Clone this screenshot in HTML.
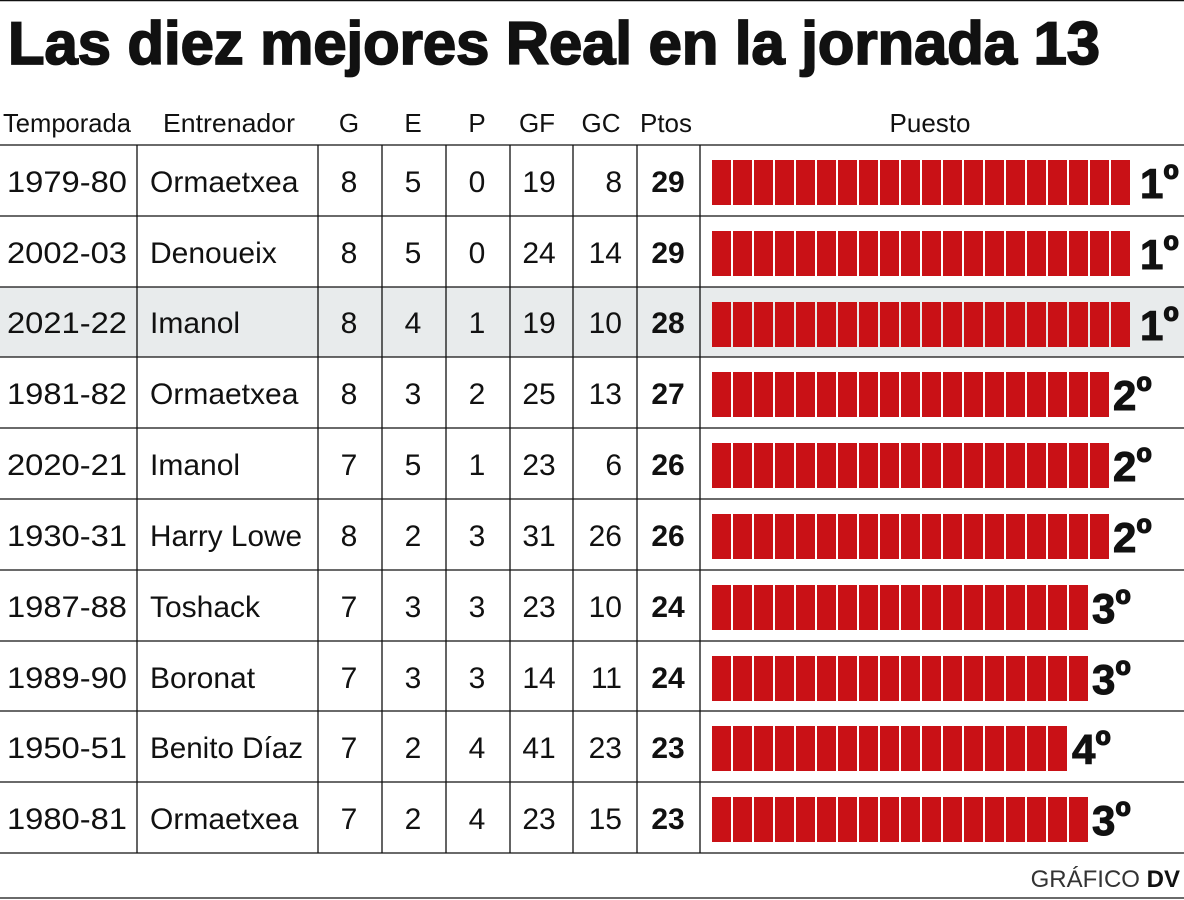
<!DOCTYPE html>
<html><head><meta charset="utf-8"><style>
html,body{margin:0;padding:0;background:#fff;}
svg{display:block;}
text{font-family:"Liberation Sans",sans-serif;fill:#111;}
</style></head><body>
<svg width="1184" height="900" viewBox="0 0 1184 900" xmlns="http://www.w3.org/2000/svg">
<rect width="1184" height="900" fill="#fff"/>
<line x1="0" y1="0.5" x2="1184" y2="0.5" stroke="#111" stroke-width="1.5"/>
<text x="8" y="64" font-size="60" font-weight="bold" textLength="1092" lengthAdjust="spacingAndGlyphs" stroke="#111" stroke-width="1.8">Las diez mejores Real en la jornada 13</text>
<g font-size="26">
<text x="3" y="132" textLength="128" lengthAdjust="spacingAndGlyphs">Temporada</text>
<text x="163" y="132" textLength="132" lengthAdjust="spacingAndGlyphs">Entrenador</text>
<text x="349" y="132" text-anchor="middle">G</text>
<text x="413" y="132" text-anchor="middle">E</text>
<text x="477" y="132" text-anchor="middle">P</text>
<text x="537" y="132" text-anchor="middle">GF</text>
<text x="601" y="132" text-anchor="middle">GC</text>
<text x="640" y="132" textLength="52" lengthAdjust="spacingAndGlyphs">Ptos</text>
<text x="930" y="132" text-anchor="middle">Puesto</text>
</g>
<rect x="0" y="287" width="1184" height="70" fill="#e8ebec"/>
<g stroke="#111" stroke-width="1.3">
<line x1="0" y1="145" x2="1184" y2="145"/><line x1="0" y1="216" x2="1184" y2="216"/><line x1="0" y1="287" x2="1184" y2="287"/><line x1="0" y1="357" x2="1184" y2="357"/><line x1="0" y1="428" x2="1184" y2="428"/><line x1="0" y1="499" x2="1184" y2="499"/><line x1="0" y1="570" x2="1184" y2="570"/><line x1="0" y1="641" x2="1184" y2="641"/><line x1="0" y1="711" x2="1184" y2="711"/><line x1="0" y1="782" x2="1184" y2="782"/><line x1="0" y1="853" x2="1184" y2="853"/>
<line x1="137" y1="145" x2="137" y2="853"/><line x1="318" y1="145" x2="318" y2="853"/><line x1="382" y1="145" x2="382" y2="853"/><line x1="446" y1="145" x2="446" y2="853"/><line x1="510" y1="145" x2="510" y2="853"/><line x1="573" y1="145" x2="573" y2="853"/><line x1="637" y1="145" x2="637" y2="853"/><line x1="700" y1="145" x2="700" y2="853"/>
<line x1="0" y1="898" x2="1184" y2="898"/>
</g>
<defs>
<pattern id="seg" x="712" y="0" width="21" height="900" patternUnits="userSpaceOnUse"><rect x="0" y="0" width="19" height="900" fill="#c91116"/></pattern>
</defs>
<g fill="url(#seg)">
<rect x="712" y="160" width="418" height="45"/>
<rect x="712" y="231" width="418" height="45"/>
<rect x="712" y="302" width="418" height="45"/>
<rect x="712" y="372" width="397" height="45"/>
<rect x="712" y="443" width="397" height="45"/>
<rect x="712" y="514" width="397" height="45"/>
<rect x="712" y="585" width="376" height="45"/>
<rect x="712" y="656" width="376" height="45"/>
<rect x="712" y="726" width="355" height="45"/>
<rect x="712" y="797" width="376" height="45"/>
</g>
<g font-size="42" font-weight="bold" stroke="#111" stroke-width="1">
<text x="1140" y="198">1<tspan dy="-4">º</tspan></text><text x="1140" y="269">1<tspan dy="-4">º</tspan></text><text x="1140" y="340">1<tspan dy="-4">º</tspan></text>
<text x="1113" y="410">2<tspan dy="-4">º</tspan></text><text x="1113" y="481">2<tspan dy="-4">º</tspan></text><text x="1113" y="552">2<tspan dy="-4">º</tspan></text>
<text x="1092" y="623">3<tspan dy="-4">º</tspan></text><text x="1092" y="694">3<tspan dy="-4">º</tspan></text><text x="1072" y="764">4<tspan dy="-4">º</tspan></text><text x="1092" y="835">3<tspan dy="-4">º</tspan></text>
</g>
<g font-size="30">
<text x="7" y="192" textLength="120" lengthAdjust="spacingAndGlyphs">1979-80</text><text x="150" y="192">Ormaetxea</text><text x="349" y="192" text-anchor="middle">8</text><text x="413" y="192" text-anchor="middle">5</text><text x="477" y="192" text-anchor="middle">0</text><text x="539" y="192" text-anchor="middle">19</text><text x="622" y="192" text-anchor="end">8</text><text x="668" y="192" text-anchor="middle" font-weight="bold">29</text>
<text x="7" y="263" textLength="120" lengthAdjust="spacingAndGlyphs">2002-03</text><text x="150" y="263">Denoueix</text><text x="349" y="263" text-anchor="middle">8</text><text x="413" y="263" text-anchor="middle">5</text><text x="477" y="263" text-anchor="middle">0</text><text x="539" y="263" text-anchor="middle">24</text><text x="622" y="263" text-anchor="end">14</text><text x="668" y="263" text-anchor="middle" font-weight="bold">29</text>
<text x="7" y="333" textLength="120" lengthAdjust="spacingAndGlyphs">2021-22</text><text x="150" y="333">Imanol</text><text x="349" y="333" text-anchor="middle">8</text><text x="413" y="333" text-anchor="middle">4</text><text x="477" y="333" text-anchor="middle">1</text><text x="539" y="333" text-anchor="middle">19</text><text x="622" y="333" text-anchor="end">10</text><text x="668" y="333" text-anchor="middle" font-weight="bold">28</text>
<text x="7" y="404" textLength="120" lengthAdjust="spacingAndGlyphs">1981-82</text><text x="150" y="404">Ormaetxea</text><text x="349" y="404" text-anchor="middle">8</text><text x="413" y="404" text-anchor="middle">3</text><text x="477" y="404" text-anchor="middle">2</text><text x="539" y="404" text-anchor="middle">25</text><text x="622" y="404" text-anchor="end">13</text><text x="668" y="404" text-anchor="middle" font-weight="bold">27</text>
<text x="7" y="475" textLength="120" lengthAdjust="spacingAndGlyphs">2020-21</text><text x="150" y="475">Imanol</text><text x="349" y="475" text-anchor="middle">7</text><text x="413" y="475" text-anchor="middle">5</text><text x="477" y="475" text-anchor="middle">1</text><text x="539" y="475" text-anchor="middle">23</text><text x="622" y="475" text-anchor="end">6</text><text x="668" y="475" text-anchor="middle" font-weight="bold">26</text>
<text x="7" y="546" textLength="120" lengthAdjust="spacingAndGlyphs">1930-31</text><text x="150" y="546" textLength="152" lengthAdjust="spacingAndGlyphs">Harry Lowe</text><text x="349" y="546" text-anchor="middle">8</text><text x="413" y="546" text-anchor="middle">2</text><text x="477" y="546" text-anchor="middle">3</text><text x="539" y="546" text-anchor="middle">31</text><text x="622" y="546" text-anchor="end">26</text><text x="668" y="546" text-anchor="middle" font-weight="bold">26</text>
<text x="7" y="617" textLength="120" lengthAdjust="spacingAndGlyphs">1987-88</text><text x="150" y="617">Toshack</text><text x="349" y="617" text-anchor="middle">7</text><text x="413" y="617" text-anchor="middle">3</text><text x="477" y="617" text-anchor="middle">3</text><text x="539" y="617" text-anchor="middle">23</text><text x="622" y="617" text-anchor="end">10</text><text x="668" y="617" text-anchor="middle" font-weight="bold">24</text>
<text x="7" y="688" textLength="120" lengthAdjust="spacingAndGlyphs">1989-90</text><text x="150" y="688">Boronat</text><text x="349" y="688" text-anchor="middle">7</text><text x="413" y="688" text-anchor="middle">3</text><text x="477" y="688" text-anchor="middle">3</text><text x="539" y="688" text-anchor="middle">14</text><text x="622" y="688" text-anchor="end">11</text><text x="668" y="688" text-anchor="middle" font-weight="bold">24</text>
<text x="7" y="758" textLength="120" lengthAdjust="spacingAndGlyphs">1950-51</text><text x="150" y="758" textLength="153" lengthAdjust="spacingAndGlyphs">Benito Díaz</text><text x="349" y="758" text-anchor="middle">7</text><text x="413" y="758" text-anchor="middle">2</text><text x="477" y="758" text-anchor="middle">4</text><text x="539" y="758" text-anchor="middle">41</text><text x="622" y="758" text-anchor="end">23</text><text x="668" y="758" text-anchor="middle" font-weight="bold">23</text>
<text x="7" y="829" textLength="120" lengthAdjust="spacingAndGlyphs">1980-81</text><text x="150" y="829">Ormaetxea</text><text x="349" y="829" text-anchor="middle">7</text><text x="413" y="829" text-anchor="middle">2</text><text x="477" y="829" text-anchor="middle">4</text><text x="539" y="829" text-anchor="middle">23</text><text x="622" y="829" text-anchor="end">15</text><text x="668" y="829" text-anchor="middle" font-weight="bold">23</text>
</g>
<text x="1180" y="887" font-size="24" text-anchor="end" style="fill:#333">GRÁFICO <tspan font-weight="bold" style="fill:#111">DV</tspan></text>
</svg>
</body></html>
